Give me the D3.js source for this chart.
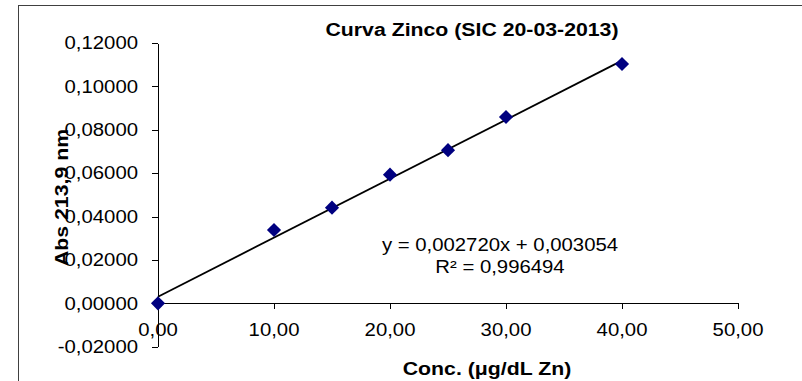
<!DOCTYPE html>
<html>
<head>
<meta charset="utf-8">
<script src="https://cdn.jsdelivr.net/npm/d3@7"></script>
<style>
  body { margin: 0; background: #fff; }
  text { font-family: "Liberation Sans", Arial, sans-serif; }
</style>
</head>
<body>
<div id="chart"></div>
<script>
// measured concentrations and absorbances
const conc = [0, 10, 15, 20, 25, 30, 40];
const abs = [0, 0.0338, 0.0441, 0.0593, 0.0706, 0.0859, 0.1103];

const xTicks = [0, 10, 20, 30, 40, 50];
const yTicks = [-0.02, 0, 0.02, 0.04, 0.06, 0.08, 0.10, 0.12];

// linear trendline as printed on the chart
const slope = 0.002720;
const intercept = 0.003054;
const trendX = [0, 40];
const eqLines = ["y = 0,002720x + 0,003054", "R\u00b2 = 0,996494"];

const title = "Curva Zinco (SIC 20-03-2013)";
const xTitle = "Conc. (\u03bcg/dL Zn)";
const yTitle = "Abs 213,9 nm";

const W = 802, H = 381;
const stretch = 1.13; // text in the original is a bit wide

const locale = d3.formatLocale({decimal: ",", thousands: ".", grouping: [3], currency: ["", ""], minus: "-"});
const fx = locale.format(".2f");
const fy = locale.format(".5f");

const svg = d3.select("#chart").append("svg")
    .attr("width", W)
    .attr("height", H);

// outer chart frame (runs off the right and bottom)
svg.append("rect")
    .attr("x", 18.5).attr("y", 5.5)
    .attr("width", W).attr("height", H)
    .attr("fill", "none")
    .attr("stroke", "#404040")
    .attr("stroke-width", 1);

const x = d3.scaleLinear().domain([0, 50]).range([158, 738]);
const y = d3.scaleLinear().domain([-0.02, 0.12]).range([346.7, 43]);

function label(sel, px, py, rot, sx) {
    return sel.attr("transform", `translate(${px},${py}) rotate(${rot}) scale(${sx},1)`);
}

// y axis
const yAxis = svg.append("g")
    .attr("transform", `translate(${x(0)},0)`)
    .call(d3.axisLeft(y).tickValues(yTicks).tickSize(6).tickSizeOuter(0).tickFormat(""));

// x axis, crossing at y = 0
const xAxis = svg.append("g")
    .attr("transform", `translate(0,${y(0)})`)
    .call(d3.axisBottom(x).tickValues(xTicks).tickSize(6).tickSizeOuter(0).tickFormat(""));

[yAxis, xAxis].forEach(g => {
    g.selectAll("path, line").attr("stroke", "#000").attr("shape-rendering", "crispEdges");
});

// tick labels
svg.append("g").selectAll("text")
    .data(yTicks)
    .join("text")
    .attr("text-anchor", "end")
    .attr("font-size", 18)
    .attr("fill", "#000")
    .attr("dy", "0.35em")
    .text(d => fy(d))
    .each(function(d) { label(d3.select(this), 138, y(d), 0, stretch); });

svg.append("g").selectAll("text")
    .data(xTicks)
    .join("text")
    .attr("text-anchor", "middle")
    .attr("font-size", 18)
    .attr("fill", "#000")
    .text(d => fx(d))
    .each(function(d) { label(d3.select(this), x(d), 336, 0, stretch); });

// trendline
svg.append("path")
    .datum(trendX)
    .attr("fill", "none")
    .attr("stroke", "#000")
    .attr("stroke-width", 1.8)
    .attr("d", d3.line().x(d => x(d)).y(d => y(slope * d + intercept)));

// data points
svg.append("g").selectAll("path")
    .data(conc.map((c, i) => [c, abs[i]]))
    .join("path")
    .attr("d", d3.symbol(d3.symbolSquare, 100)())
    .attr("fill", "#000080")
    .attr("transform", d => `translate(${x(d[0])},${y(d[1])}) rotate(45)`);

// equation
svg.append("g").selectAll("text")
    .data(eqLines)
    .join("text")
    .attr("text-anchor", "middle")
    .attr("font-size", 18)
    .attr("fill", "#000")
    .text(d => d)
    .each(function(d, i) { label(d3.select(this), 500, 251 + i * 22, 0, stretch); });

// titles
label(svg.append("text"), 472, 36, 0, 1.12)
    .attr("text-anchor", "middle")
    .attr("font-size", 19)
    .attr("font-weight", "bold")
    .text(title);

label(svg.append("text"), 487, 375, 0, 1.12)
    .attr("text-anchor", "middle")
    .attr("font-size", 19)
    .attr("font-weight", "bold")
    .text(xTitle);

label(svg.append("text"), 68, 197.5, -90, 1.12)
    .attr("text-anchor", "middle")
    .attr("font-size", 19)
    .attr("font-weight", "bold")
    .text(yTitle);
</script>
</body>
</html>
